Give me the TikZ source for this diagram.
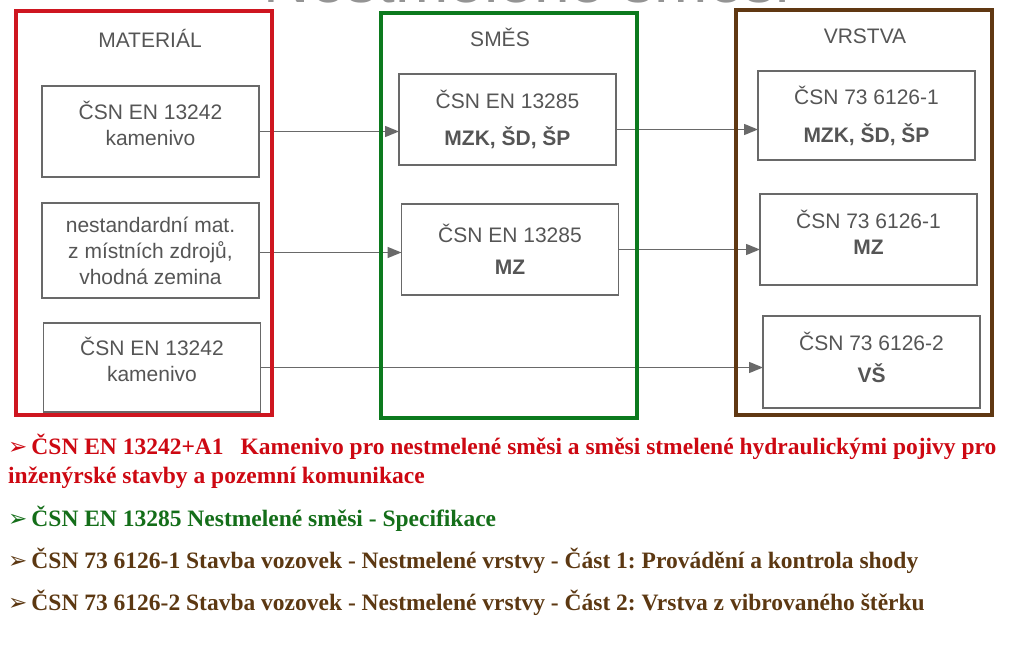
\documentclass[tikz,border=0pt]{standalone}
\usepackage{xcolor}
\usepackage{fontspec}
\usepackage{tikz}
\usetikzlibrary{positioning, arrows.meta}

\setmainfont{Liberation Serif}
\newfontfamily\diagfont{Liberation Sans}
\newfontfamily\symfont{DejaVu Sans}
\frenchspacing

\definecolor{matred}{RGB}{206,22,32}
\definecolor{mixgreen}{RGB}{12,122,30}
\definecolor{layerbrown}{RGB}{96,56,18}
\definecolor{notered}{RGB}{205,8,18}
\definecolor{notegreen}{RGB}{20,110,25}
\definecolor{notebrown}{RGB}{92,56,18}
\definecolor{textgrey}{RGB}{85,85,85}
\definecolor{boxgrey}{RGB}{105,105,105}

\newcommand{\notebullet}{{\symfont\fontsize{23}{23}\selectfont ➢}\hspace{4pt}}

\begin{document}
\begin{tikzpicture}[
    x=1pt, y=-1pt,
    % Define common styles
        frame/.style={draw, line width=4pt, minimum width=256pt, minimum height=404pt, outer sep=0pt},
        header/.style={anchor=base, text=textgrey, font=\diagfont\fontsize{21}{26}\selectfont},
        box/.style={draw=boxgrey, line width=1.3pt, align=center, minimum width=217pt, minimum height=91pt,
                    inner sep=2pt, outer sep=0pt, text=textgrey, font=\diagfont\fontsize{21}{26}\selectfont},
        note/.style={anchor=base west, inner sep=0pt, font=\bfseries\fontsize{23.5}{28}\selectfont},
        arrow/.style={-{Triangle[length=14pt, width=11pt]}, draw=boxgrey, line width=1.4pt}
    ]

        \useasboundingbox (0,0) rectangle (1023,650);

        % Cut-off title at the top edge
        \begin{scope}
            \clip (0,0) rectangle (1023,650);
            \node[anchor=base, text=black!42, font=\diagfont\fontsize{64}{70}\selectfont] (title) at (527,3) {Nestmelené směsi};
        \end{scope}

        % Material column
        \node[box, text depth=16pt] (mat1) at (150.5,131.5) {ČSN EN 13242\\kamenivo};
        \node[box, below=26pt of mat1, minimum height=95pt] (mat2) {nestandardní mat.\\z místních zdrojů,\\vhodná zemina};
        \node[box, below=25pt of mat2, xshift=1.5pt, minimum height=89pt, text depth=16pt] (mat3) {ČSN EN 13242\\kamenivo};

        % Mixture column
        \node[box] (mix1) at (507.5,119.5) {ČSN EN 13285\\[11pt]\textbf{MZK, ŠD, ŠP}};
        \node[box, below=39pt of mix1, xshift=2.5pt] (mix2) {ČSN EN 13285\\[6pt]\textbf{MZ}};

        % Layer column
        \node[box, minimum height=89pt] (lay1) at (866.5,115.5) {ČSN 73 6126-1\\[12pt]\textbf{MZK, ŠD, ŠP}};
        \node[box, below=34pt of lay1, xshift=2pt, text depth=14pt] (lay2) {ČSN 73 6126-1\\\textbf{MZ}};
        \node[box, below=31pt of lay2, xshift=3pt, minimum height=92pt, text depth=10pt] (lay3) {ČSN 73 6126-2\\[6pt]\textbf{VŠ}};

        % Draw the horizontal arrows
        \draw[arrow] (mat1.east) -- (mat1.east -| mix1.west);
        \draw[arrow] ([yshift=-10pt]mix1.east) -- ([yshift=-10pt]mix1.east -| lay1.west);
        \draw[arrow] ([yshift=-2pt]mat2.east) -- ([yshift=-2pt]mat2.east -| mix2.west);
        \draw[arrow] (mix2.east) -- (mix2.east -| lay2.west);
        \draw[arrow] (mat3.east) -- (mat3.east -| lay3.west);

        % Column frames
        \node[frame, draw=matred] (matframe) at (144,213) {};
        \node[frame, draw=mixgreen, minimum height=405pt] (mixframe) at (509,215.5) {};
        \node[frame, draw=layerbrown, minimum height=405pt] (layframe) at (864,212.5) {};

        % Column headers
        \node[header] (matlabel) at (150,48) {MATERIÁL};
        \node[header] (mixlabel) at (500,47) {SMĚS};
        \node[header] (laylabel) at (865,44) {VRSTVA};

        % Standards listed below
        \node[note, text=notered] (note1) at (8,454) {\notebullet ČSN EN 13242+A1\hspace{17pt}Kamenivo pro nestmelené směsi a směsi stmelené hydraulickými pojivy pro};
        \node[note, text=notered] (note1b) at (8,483) {inženýrské stavby a pozemní komunikace};
        \node[note, text=notegreen] (note2) at (8,526) {\notebullet ČSN EN 13285 Nestmelené směsi - Specifikace};
        \node[note, text=notebrown] (note3) at (8,568) {\notebullet ČSN 73 6126-1 Stavba vozovek - Nestmelené vrstvy - Část 1: Provádění a kontrola shody};
        \node[note, text=notebrown] (note4) at (8,610) {\notebullet ČSN 73 6126-2 Stavba vozovek - Nestmelené vrstvy - Část 2: Vrstva z vibrovaného štěrku};

    \end{tikzpicture}
\end{document}
